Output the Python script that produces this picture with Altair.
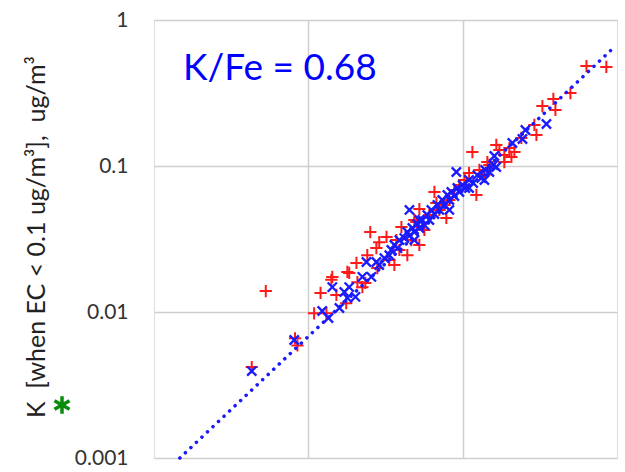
import altair as alt
import pandas as pd

# Red "+" series (Fe, K) in ug/m3
red_x = [0.0043, 0.0053, 0.0082, 0.0085, 0.0109, 0.0120, 0.0131, 0.0141, 0.0143, 0.0152,
         0.0176, 0.0179, 0.0184, 0.0205, 0.0208, 0.0224, 0.0234, 0.0241, 0.0252, 0.0276,
         0.0280, 0.0288, 0.0321, 0.0372, 0.0401, 0.0438, 0.0486, 0.0501, 0.0524, 0.0656,
         0.0676, 0.0784, 0.110, 0.1156, 0.1227, 0.1445, 0.1652, 0.173, 0.1862, 0.2009,
         0.2163, 0.1862, 0.207, 0.240, 0.2915, 0.3005, 0.3286, 0.387, 0.399, 0.499,
         0.634, 0.853,
         0.0335, 0.0389, 0.0565, 0.0608, 0.0761, 0.0883, 0.0952, 0.1026, 0.1283, 0.1383,
         0.149, 0.0361, 0.0465, 0.0524, 0.0820, 0.0706]
red_y = [0.0042, 0.0139, 0.0066, 0.0059, 0.0098, 0.0135, 0.0098, 0.0166, 0.0174, 0.0131,
         0.0115, 0.0188, 0.0185, 0.0217, 0.0160, 0.0148, 0.0158, 0.0245, 0.0353, 0.0274,
         0.0200, 0.0301, 0.0327, 0.0311, 0.0382, 0.0245, 0.0427, 0.0413, 0.0507, 0.0664,
         0.0558, 0.0441, 0.0895, 0.1247, 0.0633, 0.1065, 0.1393, 0.1288, 0.1190, 0.1328,
         0.1247, 0.1065, 0.1153, 0.1556, 0.191, 0.1631, 0.2576, 0.2877, 0.242, 0.316,
         0.484, 0.477,
         0.0227, 0.0266, 0.0365, 0.0462, 0.0541, 0.0685, 0.0741, 0.0802, 0.0939, 0.0867,
         0.1016, 0.0210, 0.0311, 0.0288, 0.0585, 0.0500]

# Blue "x" series
blue_x = [0.0043, 0.0081, 0.0123, 0.0135, 0.0143, 0.0159, 0.0171, 0.0179, 0.0184, 0.0202,
          0.0224, 0.0238, 0.0256, 0.0276, 0.0452, 0.0910, 0.1604, 0.210, 0.244, 0.255, 0.349,
          0.0288, 0.0311, 0.0335, 0.0345, 0.0361, 0.0378, 0.0389, 0.0419, 0.0438, 0.0452,
          0.0472, 0.0486, 0.0508, 0.0524, 0.0548, 0.0565, 0.0590, 0.0608, 0.0627, 0.0656,
          0.0686, 0.0706, 0.0738, 0.0761, 0.0796, 0.0820, 0.0845, 0.0883, 0.0924, 0.0952,
          0.100, 0.104, 0.110, 0.117, 0.1245, 0.132, 0.140, 0.149, 0.158, 0.165,
          0.1383, 0.110, 0.082, 0.0486, 0.0524]
blue_y = [0.00394, 0.00643, 0.01016, 0.0091, 0.0148, 0.01065, 0.0137, 0.0125, 0.0148, 0.0127,
          0.0174, 0.0220, 0.0174, 0.0220, 0.0500, 0.0910, 0.117, 0.1438, 0.153, 0.1765, 0.194,
          0.0210, 0.0234, 0.0245, 0.0266, 0.0288, 0.0274, 0.0311, 0.0321, 0.0353, 0.0332,
          0.0376, 0.0353, 0.0401, 0.0376, 0.0427, 0.0394, 0.0462, 0.0427, 0.0500, 0.0469,
          0.0541, 0.0500, 0.0585, 0.0541, 0.0633, 0.0585, 0.0664, 0.0623, 0.0707, 0.0664,
          0.0741, 0.0707, 0.0802, 0.0765, 0.0867, 0.0827, 0.0939, 0.0910, 0.1016, 0.0984,
          0.0802, 0.0707, 0.0500, 0.0311, 0.0427]

# Fit line K/Fe = 0.68
fit_x = [0.00147, 0.93]
fit_y = [0.001, 0.632]

y_ticks = [0.001, 0.01, 0.1, 1]
y_title = "K\u00a0\u00a0[when EC < 0.1 ug/m³],\u00a0\u00a0ug/m³"
annotation = "K/Fe = 0.68"

red_df = pd.DataFrame({"x": red_x, "y": red_y})
blue_df = pd.DataFrame({"x": blue_x, "y": blue_y})
fit_df = pd.DataFrame({"x": fit_x, "y": fit_y})

FONT = "Lato"
xscale = alt.Scale(type="log", domain=[0.001, 1], nice=False)
yscale = alt.Scale(type="log", domain=[0.001, 1], nice=False)

xenc = alt.X("x:Q", scale=xscale,
             axis=alt.Axis(values=[0.01, 0.1], labels=False, ticks=False, domain=False,
                           title=None, grid=True, gridColor="#cfcfcf", gridWidth=1.5))
yenc = alt.Y("y:Q", scale=yscale,
             axis=alt.Axis(values=y_ticks, format="~g", ticks=False, domain=False,
                           title=None, grid=True, gridColor="#cfcfcf", gridWidth=1.5,
                           labelFont=FONT, labelFontSize=21, labelColor="#333333",
                           labelPadding=26))

plus_path = "M-1,0L1,0M0,-1L0,1"
x_path = "M-1,-1L1,1M-1,1L1,-1"
star_path = "M0,-1L0,1M-0.87,-0.5L0.87,0.5M-0.87,0.5L0.87,-0.5"

red = alt.Chart(red_df).mark_point(shape=plus_path, filled=False, size=150,
                                   strokeWidth=2, color="#ff1a1a", opacity=1).encode(x=xenc, y=yenc)
blue = alt.Chart(blue_df).mark_point(shape=x_path, filled=False, size=85,
                                     strokeWidth=2.3, color="#1a1aff", opacity=1).encode(x=xenc, y=yenc)
fit = alt.Chart(fit_df).mark_line(color="#1a1aff", strokeWidth=3.5, strokeDash=[0.1, 7.5],
                                  strokeCap="round").encode(x=xenc, y=yenc)

ann = alt.Chart(pd.DataFrame({"t": [annotation]})).mark_text(
    font=FONT, fontSize=37, color="#0000ff", align="left", baseline="alphabetic"
).encode(text="t:N", x=alt.value(29), y=alt.value(60))

title = alt.Chart(pd.DataFrame({"t": [y_title]})).mark_text(
    font=FONT, fontSize=25, color="#222222", align="left",
    baseline="alphabetic", angle=270
).encode(text="t:N", x=alt.value(-109), y=alt.value(398))

star = alt.Chart(pd.DataFrame({"t": ["*"]})).mark_point(
    shape=star_path, filled=False, size=300, strokeWidth=3.5, color="#0a8a0a", opacity=1
).encode(x=alt.value(-92), y=alt.value(385))

chart = alt.layer(red, blue, fit, ann, title, star).properties(
    width=463, height=438, autosize="none",
    padding={"left": 154, "top": 20, "right": 8, "bottom": 14},
).configure_view(stroke="#cfcfcf", strokeWidth=1.5).configure(background="white")

chart.save("out.html", embed_options={"renderer": "svg", "actions": False})
